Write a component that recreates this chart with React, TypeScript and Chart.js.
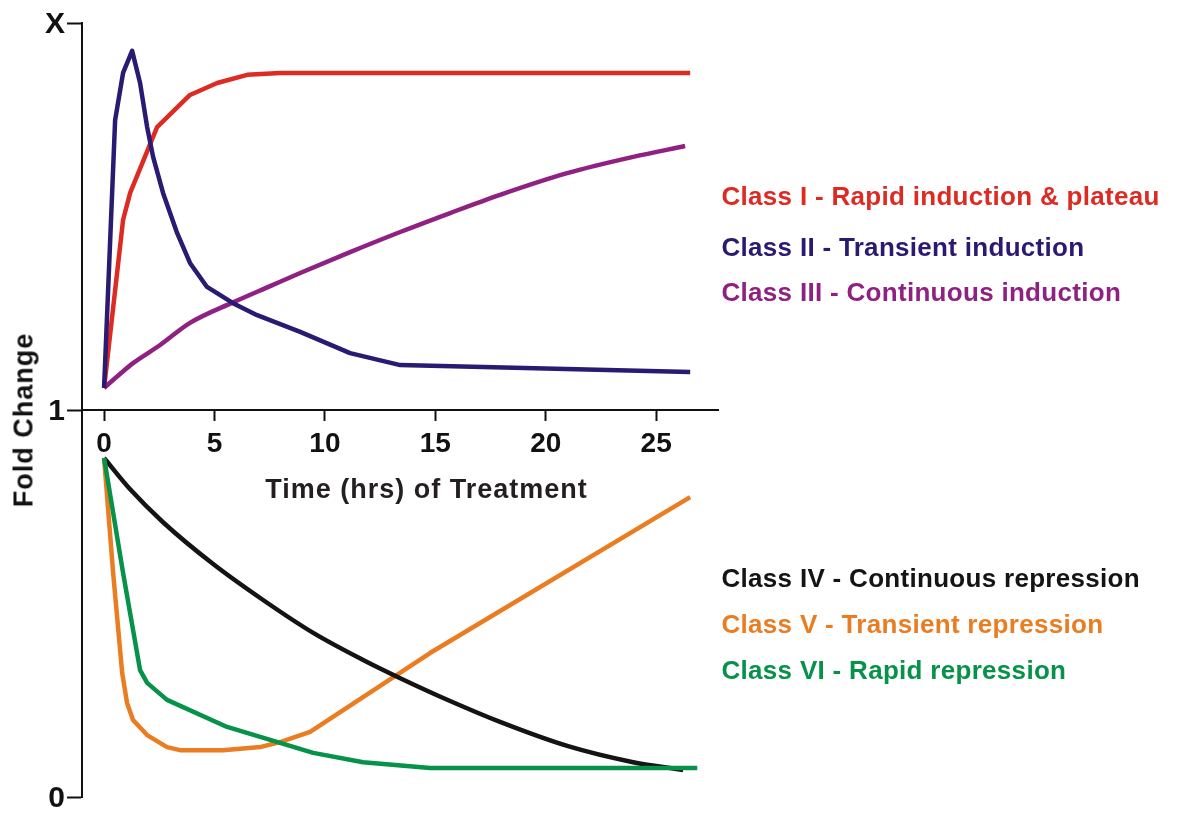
import React, { useEffect, useRef } from "react";
import { Chart, registerables } from "chart.js";

Chart.register(...registerables);

// ---- Data ----
const xTicks = [0, 5, 10, 15, 20, 25];
const yTicks = [0, 1, 2];
const yTickLabels = ["0", "1", "X"];

const timeI = [0, 0.86, 1.18, 2.4, 3.89, 5.12, 6.48, 7.97, 26.54];
const foldI = [1.057, 1.491, 1.561, 1.731, 1.814, 1.845, 1.866, 1.871, 1.871];

const timeII = [0, 0.5, 0.86, 1.27, 1.63, 1.95, 2.22, 2.67, 3.31, 3.89, 4.66, 5.84, 6.93, 8.88, 11.14, 13.41, 26.54];
const foldII = [1.057, 1.749, 1.871, 1.928, 1.845, 1.731, 1.654, 1.561, 1.457, 1.38, 1.318, 1.276, 1.245, 1.202, 1.147, 1.116, 1.098];

const timeIII = [0, 0.72, 1.31, 2.54, 3.89, 5.84, 7.52, 8.88, 11.14, 13.41, 15.67, 17.93, 20.97, 23.96, 26.31];
const foldIII = [1.057, 1.093, 1.121, 1.168, 1.225, 1.278, 1.32, 1.354, 1.408, 1.46, 1.509, 1.556, 1.612, 1.654, 1.682];

const timeIV = [0, 1.18, 2.67, 4.94, 7.2, 9.47, 11.73, 13.41, 15.67, 17.93, 20.97, 23.96, 26.22];
const foldIV = [0.876, 0.795, 0.71, 0.602, 0.509, 0.424, 0.354, 0.307, 0.248, 0.194, 0.132, 0.09, 0.07];

const timeV = [0, 0.41, 0.82, 1.04, 1.31, 1.95, 2.85, 3.44, 5.39, 7.07, 7.97, 9.33, 14.76, 26.54];
const foldV = [0.876, 0.579, 0.32, 0.243, 0.199, 0.16, 0.129, 0.121, 0.121, 0.129, 0.142, 0.168, 0.372, 0.775];

const timeVI = [0, 0.86, 1.63, 1.95, 2.85, 5.57, 9.47, 11.73, 14.76, 26.86];
const foldVI = [0.876, 0.579, 0.328, 0.295, 0.251, 0.181, 0.114, 0.09, 0.075, 0.075];

const classNames = [
  "Class I - Rapid induction & plateau",
  "Class II - Transient induction",
  "Class III - Continuous induction",
  "Class IV - Continuous repression",
  "Class V - Transient repression",
  "Class VI - Rapid repression",
];
const classColors = ["#DD2A22", "#2A1A72", "#8E2182", "#151314", "#EA7D22", "#07924A"];
const classTimes = [timeI, timeII, timeIII, timeIV, timeV, timeVI];
const classFolds = [foldI, foldII, foldIII, foldIV, foldV, foldVI];
const classSmooth = [false, false, true, true, false, false];

// drawing order (first = on top)
const drawOrder = [1, 0, 2, 5, 3, 4];

const legendCapCenters = [196, 247, 292, 578, 623.5, 669.5];

const FONT = "'Liberation Sans', Arial, Helvetica, sans-serif";

export default function App() {
  const ref = useRef<HTMLCanvasElement | null>(null);

  useEffect(() => {
    if (!ref.current) return;
    const datasets = drawOrder.map((i) => ({
      label: classNames[i],
      data: classTimes[i].map((t, k) => ({ x: t, y: classFolds[i][k] })),
      borderColor: classColors[i],
      backgroundColor: classColors[i],
      borderWidth: 4.5,
      pointRadius: 0,
      tension: 0,
      cubicInterpolationMode: (classSmooth[i] ? "monotone" : "default") as any,
      fill: false,
      borderJoinStyle: "round" as const,
    }));

    const chart = new Chart(ref.current, {
      type: "line",
      data: { datasets },
      options: {
        animation: false,
        responsive: false,
        maintainAspectRatio: false,
        layout: { padding: { left: 0, top: 23, right: 463, bottom: 22 } },
        plugins: { legend: { display: false }, tooltip: { enabled: false } },
        scales: {
          x: {
            type: "linear",
            position: { y: 1 } as any,
            min: -1,
            max: 27.8,
            afterBuildTicks: (s: any) => {
              s.ticks = xTicks.map((v) => ({ value: v }));
            },
            ticks: {
              font: { family: FONT, size: 28, weight: "bold" },
              color: "#111",
              padding: 7,
              maxRotation: 0,
              autoSkip: false,
            },
            grid: {
              display: true,
              drawOnChartArea: false,
              drawTicks: true,
              tickLength: 10,
              tickWidth: 2,
              tickColor: "#111",
            },
            border: { display: true, color: "#111", width: 2 },
          },
          y: {
            type: "linear",
            position: "left",
            min: 0,
            max: 2,
            afterBuildTicks: (s: any) => {
              s.ticks = yTicks.map((v) => ({ value: v }));
            },
            afterFit: (s: any) => {
              s.width = 82;
            },
            ticks: {
              callback: (v: any) => yTickLabels[yTicks.indexOf(Number(v))],
              font: { family: FONT, size: 30, weight: "bold" },
              color: "#111",
              padding: 2,
              labelOffset: 2,
              autoSkip: false,
            },
            grid: {
              display: true,
              drawOnChartArea: false,
              drawTicks: true,
              tickLength: 15,
              tickWidth: 2,
              tickColor: "#111",
            },
            border: { display: true, color: "#111", width: 2 },
          },
        },
      },
    });
    return () => chart.destroy();
  }, []);

  return (
    <div
      style={{
        position: "fixed",
        left: 0,
        top: 0,
        width: 1181,
        height: 819,
        background: "#fff",
        overflow: "hidden",
        fontFamily: FONT,
        fontWeight: "bold",
      }}
    >
      <canvas ref={ref} width={1181} height={819} style={{ display: "block" }} />
      <div
        style={{
          position: "absolute",
          left: 426.5,
          top: 475,
          transform: "translateX(-50%)",
          fontSize: 27,
          lineHeight: "28px",
          letterSpacing: "1px",
          whiteSpace: "nowrap",
          color: "#231F20",
        }}
      >
        Time (hrs) of Treatment
      </div>
      <div
        style={{
          position: "absolute",
          left: 23.5,
          top: 420,
          transform: "translate(-50%, -50%) rotate(-90deg)",
          fontSize: 27,
          lineHeight: "27px",
          letterSpacing: "1px",
          whiteSpace: "nowrap",
          color: "#111",
        }}
      >
        Fold Change
      </div>
      {classNames.map((name, i) => (
        <div
          key={name}
          style={{
            position: "absolute",
            left: 721.5,
            top: legendCapCenters[i] - 13,
            fontSize: 26,
            lineHeight: "26px",
            letterSpacing: "0.3px",
            whiteSpace: "nowrap",
            color: classColors[i],
          }}
        >
          {name}
        </div>
      ))}
    </div>
  );
}
